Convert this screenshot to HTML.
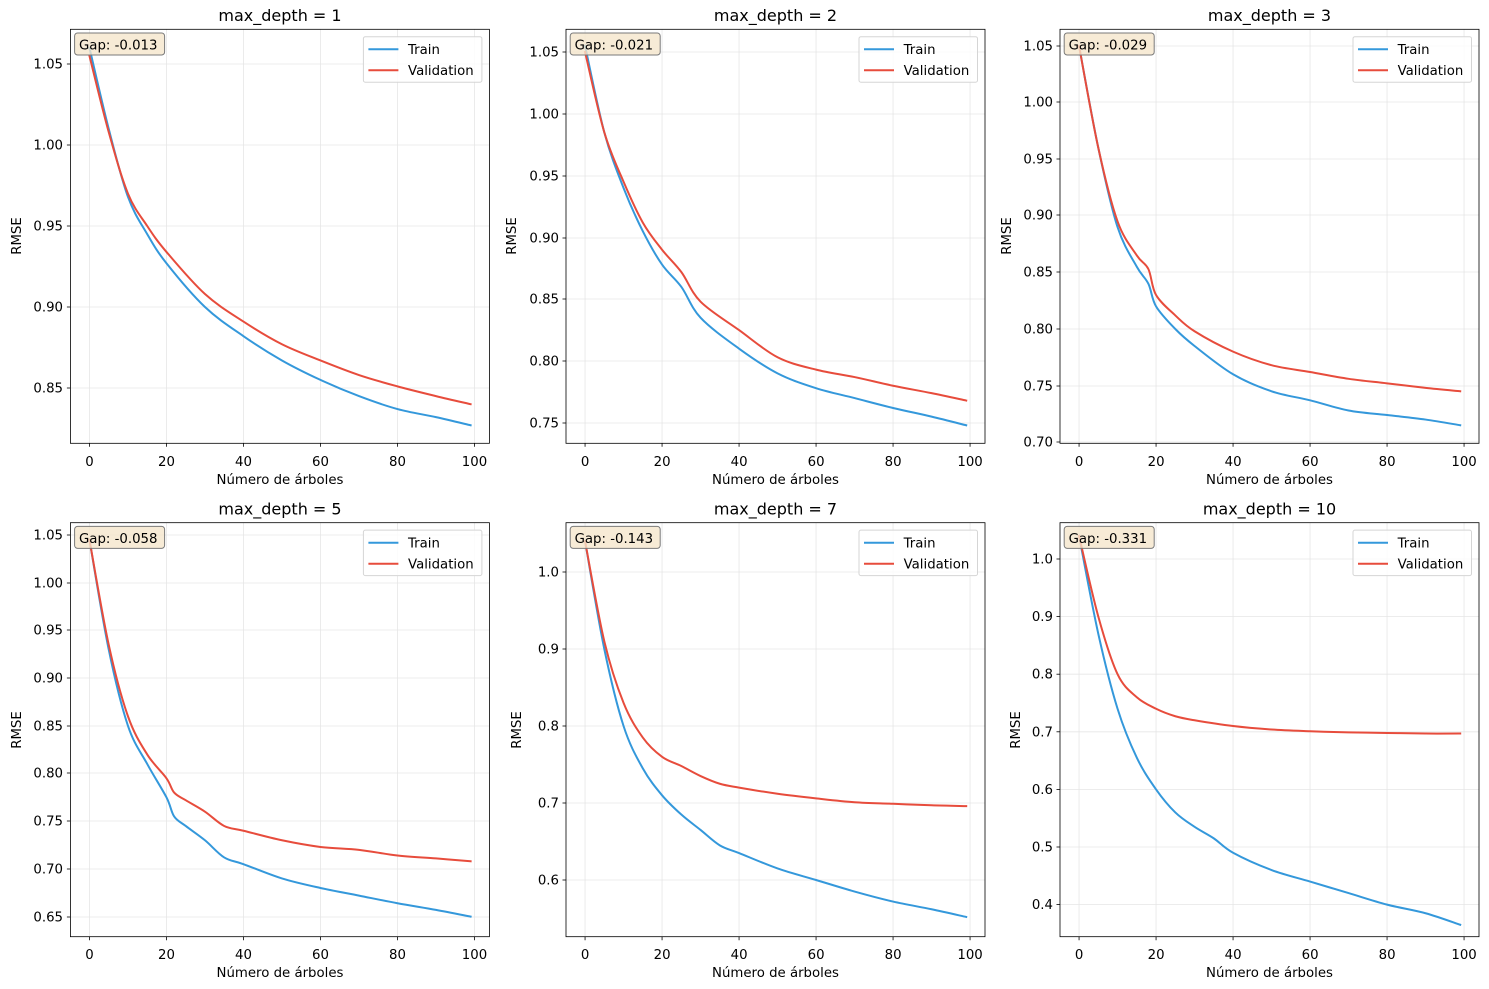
<!DOCTYPE html>
<html><head><meta charset="utf-8"><style>
body{margin:0;background:#fff}
svg{display:block;font-family:"DejaVu Sans","Liberation Sans",sans-serif}
.t{font-size:13.3px}
.ti{font-size:16px}
.yl{text-anchor:end;font-size:13.3px}
.xl{text-anchor:middle;font-size:13.3px}
</style></head><body>
<svg id="s" width="1489" height="989" viewBox="0 0 1489 989" xmlns="http://www.w3.org/2000/svg">
<g id="g"></g>
<g id="txt" fill="#000">
<text class="ti" x="280" y="21" text-anchor="middle">max_depth = 1</text>
<text class="ti" x="775.5" y="21" text-anchor="middle">max_depth = 2</text>
<text class="ti" x="1269.5" y="21" text-anchor="middle">max_depth = 3</text>
<text class="ti" x="280" y="514.5" text-anchor="middle">max_depth = 5</text>
<text class="ti" x="775.5" y="514.5" text-anchor="middle">max_depth = 7</text>
<text class="ti" x="1269.5" y="514.5" text-anchor="middle">max_depth = 10</text>
<text class="xl" x="280" y="484">Número de árboles</text>
<text class="xl" x="775.5" y="484">Número de árboles</text>
<text class="xl" x="1269.5" y="484">Número de árboles</text>
<text class="xl" x="280" y="977">Número de árboles</text>
<text class="xl" x="775.5" y="977">Número de árboles</text>
<text class="xl" x="1269.5" y="977">Número de árboles</text>
<text class="xl" transform="translate(21,236) rotate(-90)">RMSE</text>
<text class="xl" transform="translate(516,236) rotate(-90)">RMSE</text>
<text class="xl" transform="translate(1011,236) rotate(-90)">RMSE</text>
<text class="xl" transform="translate(21,730) rotate(-90)">RMSE</text>
<text class="xl" transform="translate(521,730) rotate(-90)">RMSE</text>
<text class="xl" transform="translate(1020,730) rotate(-90)">RMSE</text>
<g class="xl">
<text x="89.5" y="466">0</text><text x="166.5" y="466">20</text><text x="243.5" y="466">40</text><text x="320.5" y="466">60</text><text x="397.5" y="466">80</text><text x="474.5" y="466">100</text>
<text x="585.1" y="466">0</text><text x="662.1" y="466">20</text><text x="739.1" y="466">40</text><text x="816.1" y="466">60</text><text x="893.1" y="466">80</text><text x="970.1" y="466">100</text>
<text x="1079.1" y="466">0</text><text x="1156.1" y="466">20</text><text x="1233.1" y="466">40</text><text x="1310.1" y="466">60</text><text x="1387.1" y="466">80</text><text x="1464.1" y="466">100</text>
<text x="89.5" y="959">0</text><text x="166.5" y="959">20</text><text x="243.5" y="959">40</text><text x="320.5" y="959">60</text><text x="397.5" y="959">80</text><text x="474.5" y="959">100</text>
<text x="585.1" y="959">0</text><text x="662.1" y="959">20</text><text x="739.1" y="959">40</text><text x="816.1" y="959">60</text><text x="893.1" y="959">80</text><text x="970.1" y="959">100</text>
<text x="1079.1" y="959">0</text><text x="1156.1" y="959">20</text><text x="1233.1" y="959">40</text><text x="1310.1" y="959">60</text><text x="1387.1" y="959">80</text><text x="1464.1" y="959">100</text>
</g>
<g class="yl">
<text x="63" y="68.5">1.05</text><text x="63" y="149.5">1.00</text><text x="63" y="230.5">0.95</text><text x="63" y="311.5">0.90</text><text x="63" y="392.5">0.85</text>
<text x="559" y="56.5">1.05</text><text x="559" y="118.5">1.00</text><text x="559" y="180.5">0.95</text><text x="559" y="242.5">0.90</text><text x="559" y="303.5">0.85</text><text x="559" y="365.5">0.80</text><text x="559" y="427.5">0.75</text>
<text x="1053" y="50.5">1.05</text><text x="1053" y="106.5">1.00</text><text x="1053" y="163.5">0.95</text><text x="1053" y="219.5">0.90</text><text x="1053" y="276.5">0.85</text><text x="1053" y="333.5">0.80</text><text x="1053" y="390.5">0.75</text><text x="1053" y="446.5">0.70</text>
<text x="63" y="539.5">1.05</text><text x="63" y="587.5">1.00</text><text x="63" y="634.5">0.95</text><text x="63" y="682.5">0.90</text><text x="63" y="730.5">0.85</text><text x="63" y="777.5">0.80</text><text x="63" y="825.5">0.75</text><text x="63" y="873.5">0.70</text><text x="63" y="921.5">0.65</text>
<text x="559" y="576.5">1.0</text><text x="559" y="653.5">0.9</text><text x="559" y="730.5">0.8</text><text x="559" y="807.5">0.7</text><text x="559" y="884.5">0.6</text>
<text x="1053" y="563.5">1.0</text><text x="1053" y="621">0.9</text><text x="1053" y="678.7">0.8</text><text x="1053" y="736.3">0.7</text><text x="1053" y="793.9">0.6</text><text x="1053" y="851.5">0.5</text><text x="1053" y="909.1">0.4</text>
</g>
</g>
<g id="topg"></g>
<g id="txt2" class="t">
<text x="79" y="49.5">Gap: -0.013</text>
<text x="574.6" y="49.5">Gap: -0.021</text>
<text x="1068.6" y="49.5">Gap: -0.029</text>
<text x="79" y="543">Gap: -0.058</text>
<text x="574.6" y="543">Gap: -0.143</text>
<text x="1068.6" y="543">Gap: -0.331</text>
<text x="408" y="54">Train</text><text x="408" y="75">Validation</text>
<text x="903.6" y="54">Train</text><text x="903.6" y="75">Validation</text>
<text x="1397.6" y="54">Train</text><text x="1397.6" y="75">Validation</text>
<text x="408" y="547.4">Train</text><text x="408" y="568.4">Validation</text>
<text x="903.6" y="547.4">Train</text><text x="903.6" y="568.4">Validation</text>
<text x="1397.6" y="547.4">Train</text><text x="1397.6" y="568.4">Validation</text>
</g>
</svg>
<script>
(function(){
var NS="http://www.w3.org/2000/svg";
function el(p,n,a){var e=document.createElementNS(NS,n);for(var k in a)e.setAttribute(k,a[k]);p.appendChild(e);return e;}
var W=419,H=414;
var P=[
{L:70.4,T:29.3,y0:64,v0:1.05,s:1620,yt:[64,145,226,307,388],
 tr:[[0,1.06],[5,1.01],[10,0.968],[15,0.945],[20,0.927],[30,0.900],[40,0.882],[50,0.867],[60,0.855],[70,0.845],[80,0.837],[90,0.832],[99,0.827]],
 va:[[0,1.055],[5,1.008],[10,0.970],[15,0.950],[20,0.934],[30,0.908],[40,0.891],[50,0.877],[60,0.867],[70,0.858],[80,0.851],[90,0.845],[99,0.840]]},
{L:566,T:29.3,y0:52,v0:1.05,s:1236,yt:[52,114,176,238,299,361,423],
 tr:[[0,1.055],[5,0.985],[10,0.94],[15,0.905],[20,0.878],[25,0.86],[30,0.835],[40,0.81],[50,0.79],[60,0.778],[70,0.77],[80,0.762],[90,0.755],[99,0.748]],
 va:[[0,1.05],[5,0.985],[10,0.945],[15,0.912],[20,0.89],[25,0.872],[30,0.848],[40,0.825],[50,0.803],[60,0.793],[70,0.787],[80,0.78],[90,0.774],[99,0.768]]},
{L:1060,T:29.3,y0:46,v0:1.05,s:1132,yt:[46,102,159,215,272,329,386,442],
 tr:[[0,1.05],[5,0.96],[10,0.89],[15,0.855],[18,0.84],[20,0.82],[25,0.80],[30,0.785],[40,0.76],[50,0.745],[60,0.737],[70,0.728],[80,0.724],[90,0.72],[99,0.715]],
 va:[[0,1.05],[5,0.96],[10,0.895],[15,0.865],[18,0.853],[20,0.83],[25,0.812],[30,0.798],[40,0.78],[50,0.768],[60,0.762],[70,0.756],[80,0.752],[90,0.748],[99,0.745]]},
{L:70.4,T:522.7,y0:535,v0:1.05,s:954,yt:[535,583,630,678,726,773,821,869,917],
 tr:[[0,1.045],[5,0.93],[10,0.85],[15,0.81],[20,0.775],[22,0.755],[25,0.745],[30,0.73],[35,0.712],[40,0.705],[50,0.69],[60,0.68],[70,0.672],[80,0.664],[90,0.657],[99,0.65]],
 va:[[0,1.045],[5,0.935],[10,0.86],[15,0.82],[20,0.795],[22,0.78],[25,0.772],[30,0.76],[35,0.745],[40,0.74],[50,0.73],[60,0.723],[70,0.72],[80,0.714],[90,0.711],[99,0.708]]},
{L:566,T:522.7,y0:572,v0:1.0,s:770,yt:[572,649,726,803,880],
 tr:[[0,1.04],[5,0.90],[10,0.80],[15,0.745],[20,0.71],[25,0.685],[30,0.665],[35,0.645],[40,0.635],[50,0.615],[60,0.6],[70,0.585],[80,0.572],[90,0.562],[99,0.552]],
 va:[[0,1.04],[5,0.91],[10,0.83],[15,0.785],[20,0.76],[25,0.748],[30,0.735],[35,0.725],[40,0.72],[50,0.712],[60,0.706],[70,0.701],[80,0.699],[90,0.697],[99,0.696]]},
{L:1060,T:522.7,y0:559,v0:1.0,s:576,yt:[559,616.6,674.2,731.8,789.4,847,904.6],
 tr:[[0,1.04],[5,0.87],[10,0.74],[15,0.655],[20,0.6],[25,0.56],[30,0.535],[35,0.515],[40,0.49],[50,0.46],[60,0.44],[70,0.42],[80,0.4],[90,0.385],[99,0.365]],
 va:[[0,1.04],[5,0.90],[10,0.8],[15,0.76],[20,0.74],[25,0.727],[30,0.72],[40,0.71],[50,0.704],[60,0.701],[70,0.699],[80,0.698],[90,0.697],[99,0.697]]}
];
var g=document.getElementById("g"),topG=document.getElementById("topg");
function path(p,pts){
  var q=pts.map(function(a){return [p.L+19.06+a[0]*3.85, p.y0-(a[1]-p.v0)*p.s];});
  var d="M"+q[0][0].toFixed(2)+","+q[0][1].toFixed(2);
  for(var i=0;i<q.length-1;i++){
    var p0=q[Math.max(i-1,0)],p1=q[i],p2=q[i+1],p3=q[Math.min(i+2,q.length-1)];
    var c1=[p1[0]+(p2[0]-p0[0])/6,p1[1]+(p2[1]-p0[1])/6],c2=[p2[0]-(p3[0]-p1[0])/6,p2[1]-(p3[1]-p1[1])/6];
    d+="C"+c1[0].toFixed(2)+","+c1[1].toFixed(2)+" "+c2[0].toFixed(2)+","+c2[1].toFixed(2)+" "+p2[0].toFixed(2)+","+p2[1].toFixed(2);
  }
  return d;
}
P.forEach(function(p,i){
  var B=p.T+H,R=p.L+W;
  var cp=el(g,"clipPath",{id:"c"+i});el(cp,"rect",{x:p.L,y:p.T,width:W,height:H});
  for(var k=0;k<6;k++){var x=p.L+19.06+k*77;
    el(g,"line",{x1:x,x2:x,y1:p.T,y2:B,stroke:"#e6e6e6","stroke-width":0.8});
    el(g,"line",{x1:x,x2:x,y1:B,y2:B+3.5,stroke:"#000","stroke-width":0.8});}
  p.yt.forEach(function(y){
    el(g,"line",{x1:p.L,x2:R,y1:y,y2:y,stroke:"#e6e6e6","stroke-width":0.8});
    el(g,"line",{x1:p.L-3.5,x2:p.L,y1:y,y2:y,stroke:"#000","stroke-width":0.8});});
  var cg=el(g,"g",{"clip-path":"url(#c"+i+")",fill:"none","stroke-width":2,"stroke-linecap":"square"});
  el(cg,"path",{d:path(p,p.tr),stroke:"#3498db"});
  el(cg,"path",{d:path(p,p.va),stroke:"#e74c3c"});
  el(g,"rect",{x:p.L,y:p.T,width:W,height:H,fill:"none",stroke:"#000","stroke-width":0.8});
  el(topG,"rect",{x:p.L+4.2,y:p.T+3.7,width:90,height:22,rx:3,fill:"#f5e6cc","fill-opacity":0.8,stroke:"#7a7a7a","stroke-width":1});
  el(topG,"rect",{x:R-126,y:p.T+7.4,width:118.5,height:45.5,rx:2,fill:"#fff","fill-opacity":0.8,stroke:"#d5d5d5","stroke-width":1});
  el(topG,"line",{x1:R-121,x2:R-91,y1:p.T+20,y2:p.T+20,stroke:"#3498db","stroke-width":2});
  el(topG,"line",{x1:R-121,x2:R-91,y1:p.T+41,y2:p.T+41,stroke:"#e74c3c","stroke-width":2});
});
})();
</script>
</body></html>
